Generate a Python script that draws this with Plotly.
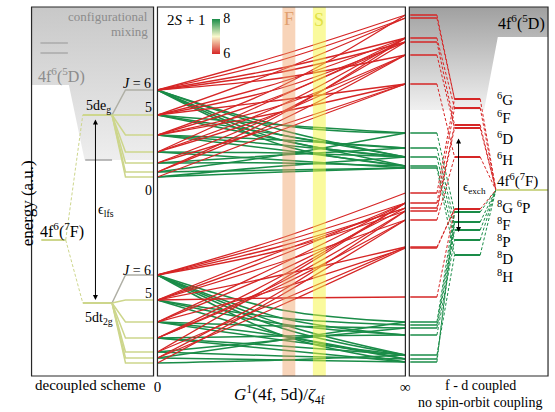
import plotly.graph_objects as go

# ---------------- data (energies in arbitrary units) ----------------
J_values = [6, 5, 4, 3, 2, 1, 0]
eg_J_energy = [286, 261, 241, 224, 213, 204, 199]    # 4f6(7F_J) x 5de_g
t2g_J_energy = [101, 76, 54, 38, 24, 18, 13]         # 4f6(7F_J) x 5dt_2g

E_4f6_7F_free = 136
E_5deg = 261
E_5dt2g = 73
E_5D_marker = 216
eps_lfs = [258, 76]
eps_exch = [239, 144]
E_4f6_7F_coupled = 186

# correlation lines: energy at G1 = 0, halfway, and at G1 = infinity
eg_sext_start = [286, 261, 286, 286, 286, 261, 261, 261, 241, 241, 241, 224, 224, 213, 204, 199, 213,
                 286, 241, 224, 204]
eg_sext_mid   = [321, 306, 308, 304, 298, 294, 288, 276, 281, 271, 264, 271, 264, 264, 256, 246, 251,
                 316, 290, 280, 262]
eg_sext_end   = [361, 358, 338, 334, 321, 338, 334, 292, 338, 321, 292, 338, 321, 334, 321, 292, 292,
                 358, 361, 334, 338]

eg_oct_start = [286, 286, 286, 286, 261, 261, 241, 241, 224, 224, 213, 204, 199, 213, 204, 286, 261, 241, 199]
eg_oct_mid   = [251, 241, 236, 231, 251, 241, 236, 226, 223, 216, 213, 206, 204, 221, 221, 246, 236, 231, 210]
eg_oct_end   = [243, 228, 219, 210, 243, 219, 228, 210, 219, 208, 210, 208, 208, 228, 243, 219, 210, 219, 219]

t2g_sext_start = [101, 101, 101, 101, 76, 76, 76, 76, 54, 54, 38, 38, 24, 18, 13, 24, 76, 54, 38, 18]
t2g_sext_mid   = [138, 134, 130, 126, 121, 114, 101, 78, 106, 88, 94, 91, 76, 71, 81, 96, 125, 112, 100, 85]
t2g_sext_end   = [183, 173, 168, 165, 173, 156, 129, 79, 168, 128, 165, 156, 129, 128, 156, 173, 168, 173, 173, 165]

t2g_oct_start = [101, 101, 101, 101, 76, 76, 54, 54, 38, 38, 24, 18, 13, 24, 18, 101, 76, 54, 38]
t2g_oct_mid   = [66, 58, 48, 41, 58, 41, 50, 36, 40, 26, 20, 16, 16, 36, 36, 52, 52, 40, 30]
t2g_oct_end   = [54, 41, 21, 14, 51, 17, 48, 21, 41, 14, 17, 14, 21, 48, 54, 21, 41, 17, 21]

# f-d coupled terms (no spin-orbit coupling)
term_sext_energy = [277, 268, 251, 248, 219, 167]
term_oct_energy = [164, 154, 146, 136, 121]
inf_sext_energy = [361, 358, 338, 334, 321, 292, 183, 173, 168, 165, 156, 129, 128, 79]
inf_sext_term   = [0, 0, 1, 2, 3, 4, 0, 1, 2, 3, 4, 5, 5, 5]
inf_oct_energy  = [243, 228, 219, 210, 208, 54, 51, 48, 41, 21, 17, 14]
inf_oct_term    = [0, 1, 2, 3, 4, 0, 1, 2, 3, 4, 1, 0]

term_labels = ["<sup>6</sup>G", "<sup>6</sup>F", "<sup>6</sup>D", "<sup>6</sup>H",
               "4f<sup>6</sup>(<sup>7</sup>F)", "<sup>8</sup>G <sup>6</sup>P",
               "<sup>8</sup>F", "<sup>8</sup>P", "<sup>8</sup>D", "<sup>8</sup>H"]
term_label_energy = [277, 259, 238, 217, 196, 169, 152, 135, 118, 100]

# ---------------- styles ----------------
W, H = 555, 412
SERIF = "Liberation Serif, DejaVu Serif, serif"
RED = "rgb(214,38,38)"
GREEN = "rgb(26,140,72)"
YG = "rgb(205,214,140)"
GRAYLVL = "rgb(175,175,165)"
DASH = "3px,2px"
Y0, Y1 = 36 / H, 405 / H
PANELS = [(28, 152), (156, 408), (412, 553)]

# left-panel columns (fractions of panel width)
X7F = (0.08, 0.28)
XD = (0.42, 0.66)
XFAN = 0.77
XARROW = 0.524
# right-panel columns
COL1 = (0.007, 0.199)
COL2 = (0.326, 0.511)
XCONV = 0.624

fig = go.Figure()


def add_line(ax, xs, ys, color, width=1.5, dash=None, shape="linear"):
    fig.add_trace(go.Scatter(x=xs, y=ys, xaxis=ax, yaxis="y", mode="lines",
                             line=dict(color=color, width=width, dash=dash, shape=shape),
                             hoverinfo="skip", showlegend=False))


def add_text(ax, x, y, text, size=14, color="black", xanchor="center", yref="y"):
    fig.add_annotation(xref=ax, yref=yref, x=x, y=y, text=text, showarrow=False,
                       font=dict(family=SERIF, size=size, color=color),
                       xanchor=xanchor, yanchor="middle")


# ---- gray configurational-mixing shading ----
fig.add_trace(go.Scatter(x=[0, 1, 1, 0.435, 0.306, 0, 0], y=[369, 369, 216, 216, 291, 291, 369],
                         xaxis="x", yaxis="y", mode="lines", line=dict(width=0), fill="toself",
                         fillgradient=dict(type="vertical",
                                           colorscale=[[0, "rgb(238,238,238)"], [1, "rgb(200,200,200)"]]),
                         hoverinfo="skip", showlegend=False))
fig.add_trace(go.Scatter(x=[0, 1, 1, 0.638, 0.539, 0, 0], y=[369, 369, 339, 339, 266, 266, 369],
                         xaxis="x3", yaxis="y", mode="lines", line=dict(width=0), fill="toself",
                         fillgradient=dict(type="vertical",
                                           colorscale=[[0, "rgb(240,240,240)"], [1, "rgb(160,160,160)"]]),
                         hoverinfo="skip", showlegend=False))

# ---- left panel: decoupled scheme ----
add_line("x", [0.073, 0.298], [333, 333], "rgb(170,170,170)", 1.5)
add_line("x", [0.073, 0.298], [323, 323], "rgb(170,170,170)", 1.5)
add_line("x", list(X7F), [E_4f6_7F_free] * 2, YG, 2)
add_line("x", [X7F[1], XD[0]], [E_4f6_7F_free, E_5deg], YG, 1, DASH)
add_line("x", [X7F[1], XD[0]], [E_4f6_7F_free, E_5dt2g], YG, 1, DASH)
add_line("x", [0.44, 0.66], [E_5D_marker] * 2, "rgb(165,165,165)", 1.5)
add_line("x", list(XD), [E_5deg] * 2, YG, 2)
add_line("x", list(XD), [E_5dt2g] * 2, YG, 2)
for J, e1, e2 in zip(J_values, eg_J_energy, t2g_J_energy):
    c = GRAYLVL if J == 6 else YG
    add_line("x", [XD[1], XFAN, 1.0], [E_5deg, e1, e1], c, 1.5)
    add_line("x", [XD[1], XFAN, 1.0], [E_5dt2g, e2, e2], c, 1.5)
fig.add_annotation(xref="x", yref="y", axref="x", ayref="y", x=XARROW, y=eps_lfs[1],
                   ax=XARROW, ay=eps_lfs[0], text="", showarrow=True, arrowhead=2,
                   arrowside="end+start", arrowsize=1, arrowwidth=1, arrowcolor="black")

# ---- middle panel: correlation lines ----
for s, m, e in zip(eg_oct_start, eg_oct_mid, eg_oct_end):
    add_line("x2", [0, 0.5, 1], [s, m, e], GREEN, 1.5, shape="spline")
for s, m, e in zip(t2g_oct_start, t2g_oct_mid, t2g_oct_end):
    add_line("x2", [0, 0.5, 1], [s, m, e], GREEN, 1.5, shape="spline")
for s, m, e in zip(eg_sext_start, eg_sext_mid, eg_sext_end):
    add_line("x2", [0, 0.5, 1], [s, m, e], RED, 1.3, shape="spline")
for s, m, e in zip(t2g_sext_start, t2g_sext_mid, t2g_sext_end):
    add_line("x2", [0, 0.5, 1], [s, m, e], RED, 1.3, shape="spline")

# colour-bar for 2S+1
fig.add_trace(go.Scatter(x=[0.5, 0.5], y=[-100, -100], xaxis="x2", yaxis="y", mode="markers",
                         marker=dict(color=[6, 8], cmin=6, cmax=8, showscale=True,
                                     colorscale=[[0, RED], [0.5, "rgb(250,248,205)"], [1, GREEN]],
                                     colorbar=dict(x=211 / W, xanchor="left", y=1 - 36 / H, yanchor="middle",
                                                   len=35 / H, lenmode="fraction", thickness=8,
                                                   outlinewidth=0, tickvals=[6, 8], ticktext=["6", "8"],
                                                   ticks="", xpad=0, ypad=0,
                                                   tickfont=dict(family=SERIF, size=14, color="black"))),
                         hoverinfo="skip", showlegend=False))

# ---- right panel: f-d coupled ----
for e, t in zip(inf_oct_energy, inf_oct_term):
    add_line("x3", list(COL1), [e, e], GREEN, 1.5)
    add_line("x3", [COL1[1], COL2[0]], [e, term_oct_energy[t]], GREEN, 1, DASH)
for e, t in zip(inf_sext_energy, inf_sext_term):
    add_line("x3", list(COL1), [e, e], RED, 1.5)
    add_line("x3", [COL1[1], COL2[0]], [e, term_sext_energy[t]], RED, 1, DASH)
for e in term_oct_energy:
    add_line("x3", list(COL2), [e, e], GREEN, 2)
    add_line("x3", [COL2[1], XCONV], [e, E_4f6_7F_coupled], GREEN, 1, DASH)
for e in term_sext_energy:
    add_line("x3", list(COL2), [e, e], RED, 2)
    add_line("x3", [COL2[1], XCONV], [e, E_4f6_7F_coupled], RED, 1, DASH)
add_line("x3", [XCONV, 1.0], [E_4f6_7F_coupled] * 2, YG, 2)
fig.add_annotation(xref="x3", yref="y", axref="x3", ayref="y", x=0.355, y=eps_exch[1],
                   ax=0.355, ay=eps_exch[0], text="", showarrow=True, arrowhead=2,
                   arrowside="end+start", arrowsize=1, arrowwidth=1, arrowcolor="black")

# ---- text ----
add_text("x", 0.97, 359, "configurational", 13, "rgb(140,140,140)", "right")
add_text("x", 0.97, 344, "mixing", 13, "rgb(140,140,140)", "right")
add_text("x", 0.04, 301, "4f<sup>6</sup>(<sup>5</sup>D)", 16, "rgb(140,140,140)", "left")
add_text("x", 0.05, 146, "4f<sup>6</sup>(<sup>7</sup>F)", 16, "black", "left")
add_text("x", 0.55, 270, "5de<sub>g</sub>", 14)
add_text("x", 0.55, 58, "5dt<sub>2g</sub>", 14)
add_text("x", 0.995, 293, "<i>J</i> = 6", 14, xanchor="right")
add_text("x", 0.96, 269, "5", 14)
add_text("x", 0.96, 186, "0", 14)
add_text("x", 0.995, 106, "<i>J</i> = 6", 14, xanchor="right")
add_text("x", 0.96, 83, "5", 14)
add_text("x", 0.61, 166, "ϵ<sub>lfs</sub>", 14)

add_text("x2", 0.03, 356, "2<i>S</i> + 1", 15, xanchor="left")
add_text("x2", 0.53, 357, "F", 18, "rgb(225,160,110)")
add_text("x2", 0.653, 356, "S", 18, "rgb(225,225,70)")

add_text("x3", 0.995, 353, "4f<sup>6</sup>(<sup>5</sup>D)", 16, xanchor="right")
for lab, e in zip(term_labels, term_label_energy):
    add_text("x3", 0.62, e, lab, 15, xanchor="left")
add_text("x3", 0.37, 189, "ϵ<sub>exch</sub>", 13, xanchor="left")

add_text("paper", 88 / W, (H - 385) / H, "decoupled scheme", 15, yref="paper")
add_text("paper", 280 / W, (H - 394) / H,
         "<i>G</i><sup>1</sup>(4f, 5d)/<i>ζ</i><sub>4f</sub>", 17, yref="paper")
add_text("paper", 484 / W, (H - 385) / H, "f - d coupled", 14, yref="paper")
add_text("paper", 484 / W, (H - 402) / H, "no spin-orbit coupling", 14, yref="paper")
fig.add_annotation(xref="paper", yref="paper", x=12 / W, y=(H - 203) / H, text="energy (a.u.)",
                   textangle=-90, showarrow=False, font=dict(family=SERIF, size=17, color="black"))

# ---- bands and frames ----
fig.add_shape(type="rect", xref="x2", yref="y", x0=0.504, x1=0.556, y0=0, y1=369,
              fillcolor="rgba(240,160,100,0.45)", line=dict(width=0), layer="above")
fig.add_shape(type="rect", xref="x2", yref="y", x0=0.627, x1=0.679, y0=0, y1=369,
              fillcolor="rgba(245,245,60,0.5)", line=dict(width=0), layer="above")
for a, b in PANELS:
    fig.add_shape(type="rect", xref="paper", yref="paper", x0=a / W, x1=b / W, y0=Y0, y1=Y1,
                  line=dict(color="rgb(40,40,40)", width=1.2), layer="above")

axis_common = dict(range=[0, 1], showgrid=False, zeroline=False, showline=False, anchor="y")
fig.update_layout(
    width=W, height=H, margin=dict(l=0, r=0, t=0, b=0),
    paper_bgcolor="white", plot_bgcolor="rgba(0,0,0,0)", showlegend=False,
    font=dict(family=SERIF, color="black"),
    xaxis=dict(domain=[PANELS[0][0] / W, PANELS[0][1] / W], showticklabels=False, ticks="", **axis_common),
    xaxis2=dict(domain=[PANELS[1][0] / W, PANELS[1][1] / W], tickvals=[0, 1], ticktext=["0", "∞"],
                ticks="", tickfont=dict(family=SERIF, size=15, color="black"), **axis_common),
    xaxis3=dict(domain=[PANELS[2][0] / W, PANELS[2][1] / W], showticklabels=False, ticks="", **axis_common),
    yaxis=dict(domain=[Y0, Y1], range=[0, 369], showgrid=False, zeroline=False, showticklabels=False,
               ticks="", anchor="x"),
)

fig.write_html("out.html")
